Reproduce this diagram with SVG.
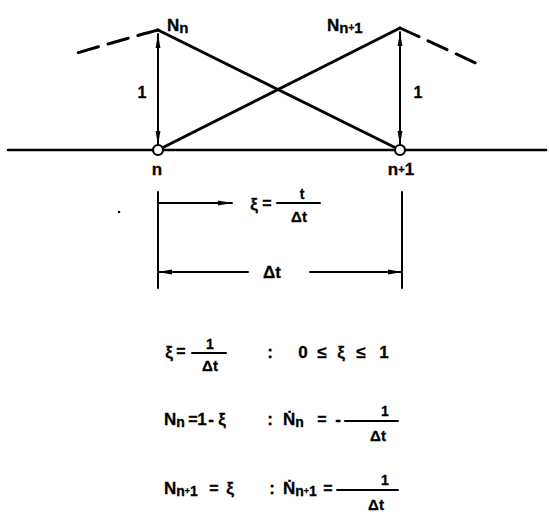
<svg xmlns="http://www.w3.org/2000/svg" width="549" height="512" viewBox="0 0 549 512">
<style>
.ln{stroke:#000;fill:none;stroke-linecap:round}
.thick{stroke-width:3}
.base{stroke-width:2.5}
.thin{stroke-width:2}
.dash{stroke-width:3;stroke-dasharray:21 10}
.t{font-family:"Liberation Sans","DejaVu Sans",sans-serif;font-weight:bold;fill:#000;stroke:#000;stroke-width:0.3}
.m{text-anchor:middle}
.s17{font-size:17px}
.s16{font-size:16px}
.s15{font-size:15px}
.s14{font-size:14px}
.s13{font-size:13px}
.node{fill:#fff;stroke:#000;stroke-width:2.2}
</style>
<defs>
<marker id="arr" viewBox="0 0 14 6" markerWidth="14" markerHeight="6" refX="14" refY="3" orient="auto-start-reverse" markerUnits="userSpaceOnUse">
<path d="M0,0.6 L14,3 L0,5.4 Z" fill="#000"/>
</marker>
</defs>
<rect width="549" height="512" fill="#fff"/>

<g id="connectors">
<path class="ln base" d="M8,150 L546,150"/>
<path class="ln thick" d="M158,30 L400,150"/>
<path class="ln thick" d="M158,150 L400,28"/>
<path class="ln dash" d="M158,30 Q135,36 77,53"/>
<path class="ln dash" d="M400,28 Q420,37 482,66"/>
<path class="ln thin" d="M158,34 L158,145" marker-start="url(#arr)" marker-end="url(#arr)"/>
<path class="ln thin" d="M400,32 L400,145" marker-start="url(#arr)" marker-end="url(#arr)"/>
</g>

<g id="node-n">
<circle class="node" cx="158" cy="150" r="5"/>
<text class="t s17 m" x="157" y="175">n</text>
</g>
<g id="node-n1">
<circle class="node" cx="400" cy="150" r="5"/>
<text class="t s17 m" x="401" y="175">n<tspan font-size="11" dy="-2">+</tspan><tspan dy="2">1</tspan></text>
</g>

<g id="labels">
<text class="t s17" x="167" y="31">N<tspan class="s15" dy="2">n</tspan></text>
<text class="t s17" x="327" y="31">N<tspan class="s15" dy="2">n</tspan><tspan font-size="10" dy="-2">+</tspan><tspan class="s15" dy="2">1</tspan></text>
<text class="t s16 m" x="142" y="98">1</text>
<text class="t s16 m" x="418" y="98">1</text>
</g>

<g id="dimensions">
<path class="ln thin" d="M158,192 L158,288"/>
<path class="ln thin" d="M402,192 L402,288"/>
<path class="ln thin" d="M158,203 L232,203" marker-end="url(#arr)"/>
<text class="t s17 m" x="254" y="210">ξ</text>
<text class="t s16 m" x="267" y="209">=</text>
<path class="ln thin" d="M277,203 L320,203"/>
<text class="t s14 m" x="302" y="199">t</text>
<text class="t s15 m" x="299" y="222">Δt</text>
<path class="ln thin" d="M158,272 L248,272" marker-start="url(#arr)"/>
<text class="t s17 m" x="272" y="278">Δt</text>
<path class="ln thin" d="M310,272 L402,272" marker-end="url(#arr)"/>
<circle cx="119" cy="212" r="1.3" fill="#000"/>
</g>

<g id="equations">
<text class="t s17 m" x="169" y="358">ξ</text>
<text class="t s16 m" x="181" y="357">=</text>
<path class="ln thin" d="M192,353 L226,353"/>
<text class="t s14 m" x="210" y="349">1</text>
<text class="t s15 m" x="210" y="371">Δt</text>
<text class="t s17 m" x="270" y="358">:</text>
<text class="t s17 m" x="303" y="358">0</text>
<text class="t s17 m" x="322" y="358">≤</text>
<text class="t s17 m" x="341" y="358">ξ</text>
<text class="t s17 m" x="361" y="358">≤</text>
<text class="t s17 m" x="384" y="358">1</text>

<text class="t s17" x="164" y="425">N<tspan class="s14" dy="2">n</tspan></text>
<text class="t s16 m" x="193" y="425">=</text>
<text class="t s17 m" x="202" y="425">1</text>
<text class="t s17 m" x="211" y="425">-</text>
<text class="t s17 m" x="222" y="425">ξ</text>
<text class="t s17 m" x="270" y="425">:</text>
<text class="t s17" x="283" y="425">Ṅ<tspan class="s14" dy="2">n</tspan></text>
<text class="t s16 m" x="322" y="425">=</text>
<text class="t s17 m" x="338" y="425">-</text>
<path class="ln thin" d="M345,421 L398,421"/>
<text class="t s14 m" x="385" y="416">1</text>
<text class="t s15 m" x="378" y="441">Δt</text>

<text class="t s17" x="164" y="494">N<tspan class="s14" dy="2">n</tspan><tspan font-size="9" dy="-2">+</tspan><tspan class="s14" dy="2">1</tspan></text>
<text class="t s16 m" x="214" y="494">=</text>
<text class="t s17 m" x="230" y="494">ξ</text>
<text class="t s17 m" x="272" y="494">:</text>
<text class="t s17" x="283" y="494">Ṅ<tspan class="s14" dy="2">n</tspan><tspan font-size="9" dy="-2">+</tspan><tspan class="s14" dy="2">1</tspan></text>
<text class="t s16 m" x="328" y="494">=</text>
<path class="ln thin" d="M337,490 L398,490"/>
<text class="t s14 m" x="385" y="485">1</text>
<text class="t s15 m" x="376" y="510">Δt</text>
</g>
</svg>
